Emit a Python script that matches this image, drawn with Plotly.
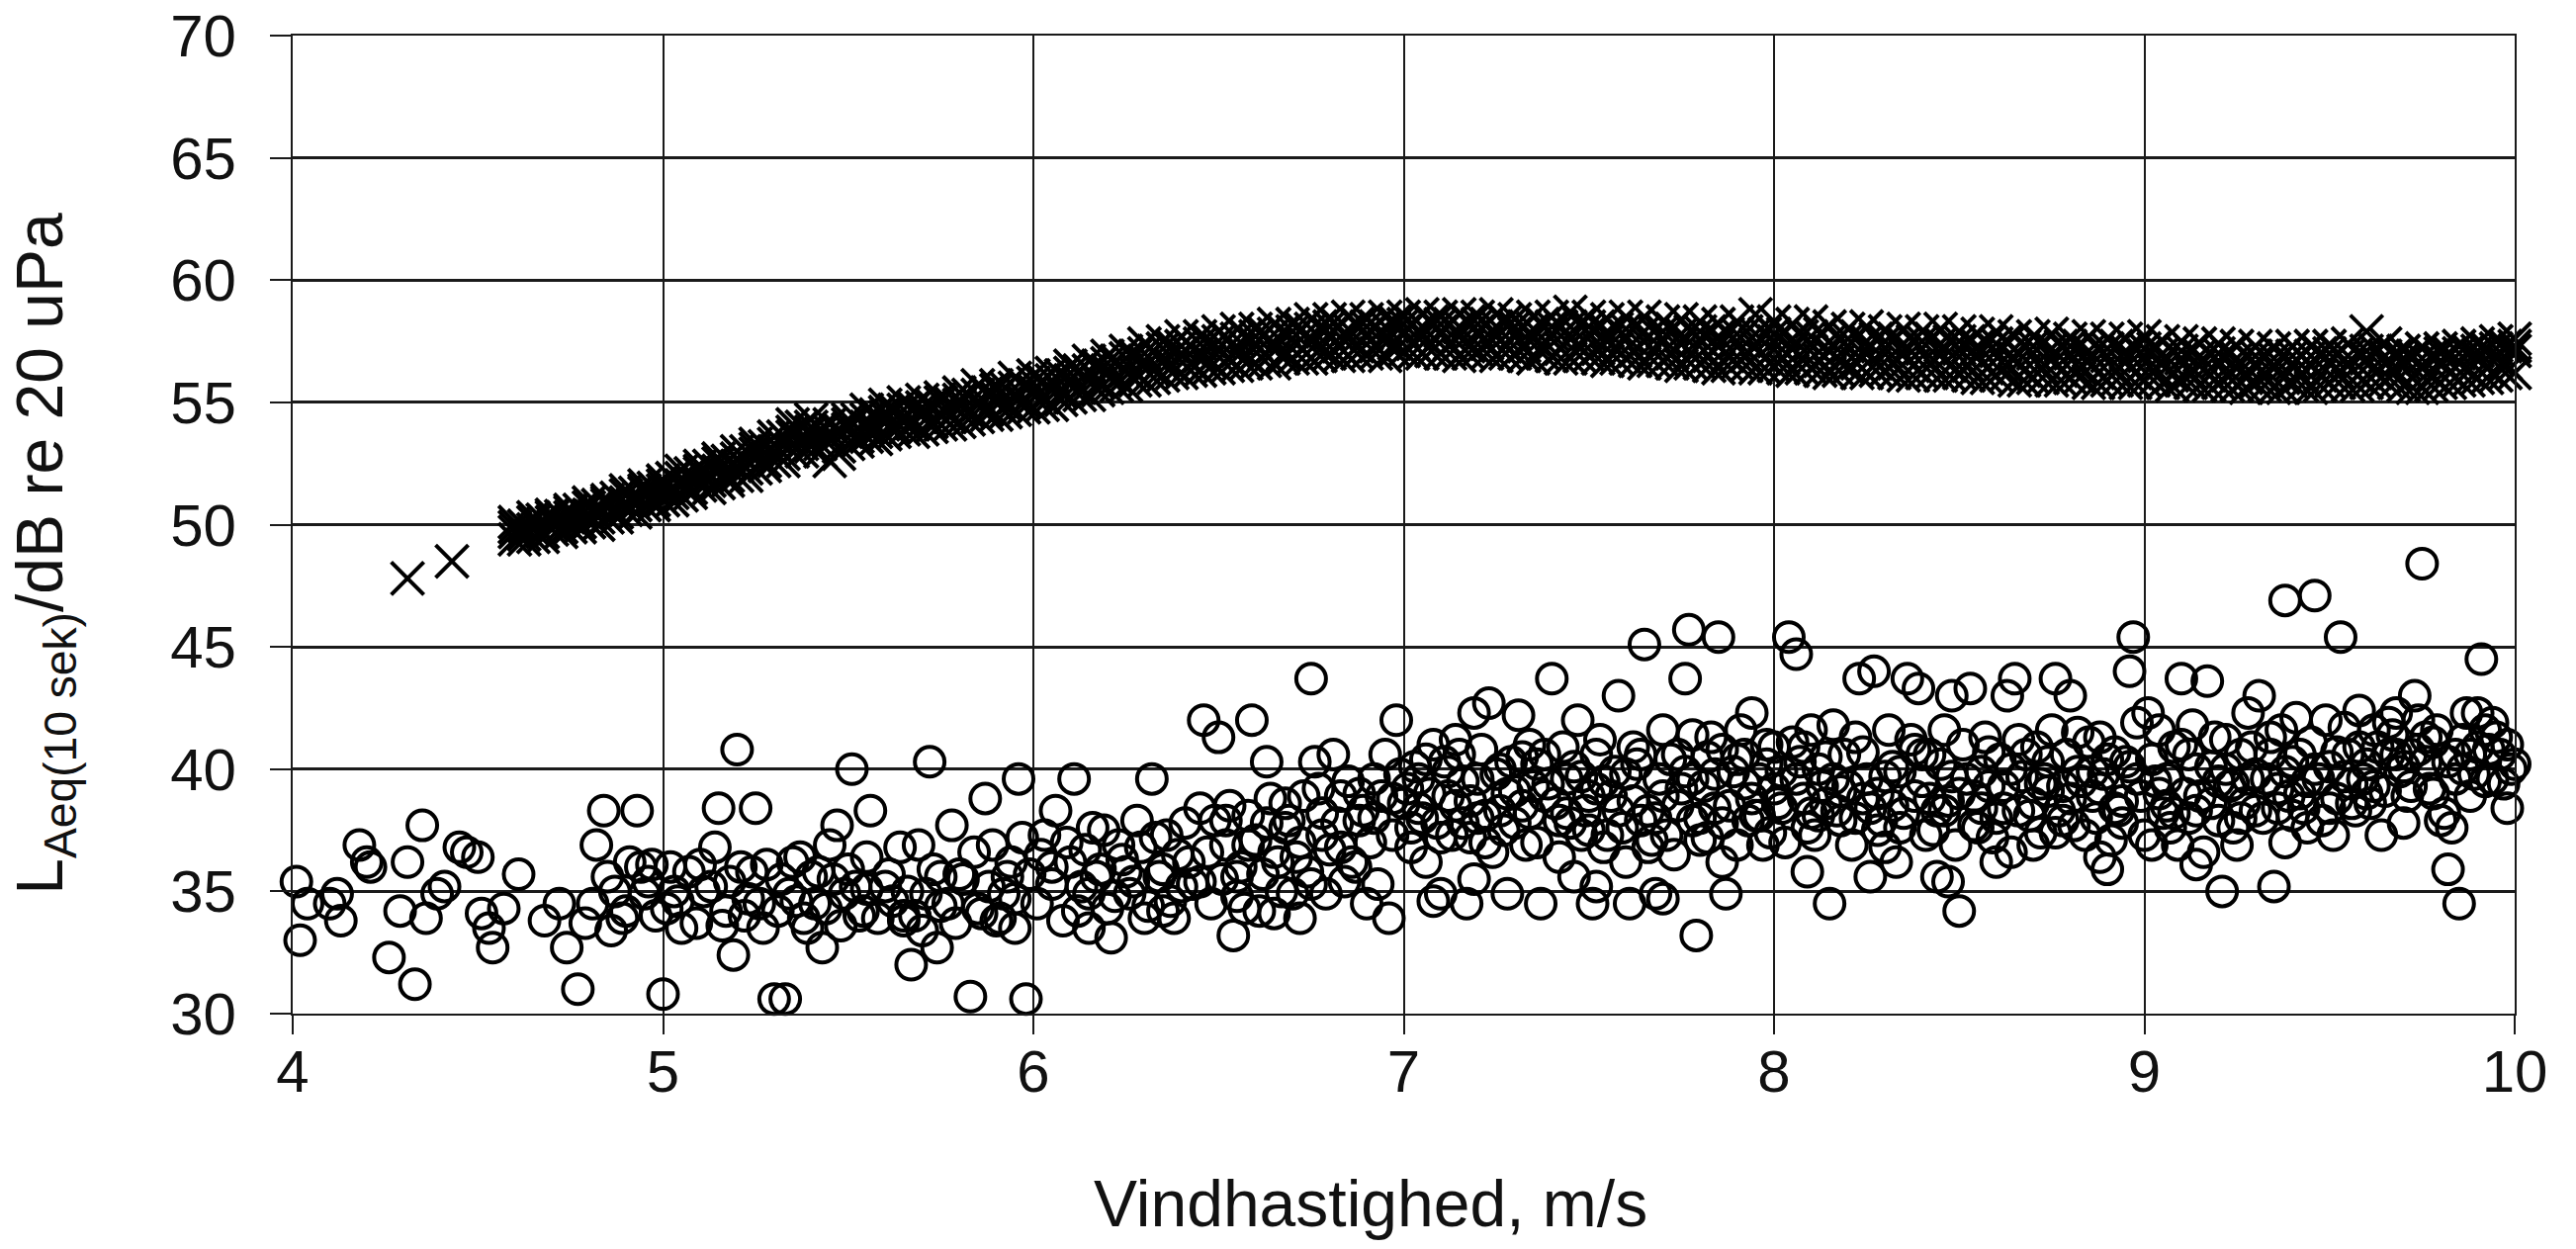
import plotly.graph_objects as go

# ---------------- data ----------------
# Crosses (upper series): wind speed columns and level rows
cross_speed_a = [4.60, 4.65, 4.70, 4.75, 4.80, 4.85, 4.90, 4.95,
                 5.00, 5.05, 5.10, 5.15, 5.20, 5.25, 5.30, 5.35, 5.40, 5.45, 5.50, 5.55, 5.60, 5.65, 5.70, 5.75, 5.80, 5.85, 5.90, 5.95,
                 6.00, 6.05, 6.10, 6.15, 6.20, 6.25, 6.30, 6.35, 6.40, 6.45, 6.50, 6.55, 6.60, 6.65, 6.70, 6.75, 6.80, 6.85, 6.90, 6.95,
                 7.00, 7.05, 7.10, 7.15, 7.20, 7.25, 7.30, 7.35, 7.40, 7.45, 7.50, 7.55, 7.60, 7.65, 7.70, 7.75, 7.80, 7.85, 7.90, 7.95,
                 8.00, 8.05, 8.10, 8.15, 8.20, 8.25, 8.30, 8.35, 8.40, 8.45, 8.50, 8.55, 8.60, 8.65, 8.70, 8.75, 8.80, 8.85, 8.90, 8.95,
                 9.00, 9.05, 9.10, 9.15, 9.20, 9.25, 9.30, 9.35, 9.40, 9.45, 9.50, 9.55, 9.60, 9.65, 9.70, 9.75, 9.80, 9.85, 9.90, 9.95,
                 10.00]
cross_high = [50.1, 50.3, 50.4, 50.6, 50.9, 51.0, 51.4, 51.6,
              51.8, 52.2, 52.4, 52.7, 53.0, 53.3, 53.6, 54.1, 54.3, 54.1, 54.3, 54.7, 54.9, 55.0, 55.1, 55.2, 55.4, 55.7, 55.7, 56.0,
              56.1, 56.2, 56.5, 56.7, 56.9, 57.1, 57.4, 57.5, 57.7, 57.7, 57.9, 58.0, 58.0, 58.2, 58.2, 58.4, 58.4, 58.5, 58.4, 58.5,
              58.5, 58.6, 58.5, 58.6, 58.5, 58.6, 58.4, 58.5, 58.5, 58.7, 58.5, 58.4, 58.5, 58.5, 58.3, 58.4, 58.3, 58.2, 58.3, 58.6,
              58.3, 58.2, 58.3, 58.1, 58.0, 58.1, 57.9, 58.0, 57.9, 58.0, 57.9, 57.8, 57.9, 57.7, 57.7, 57.8, 57.6, 57.7, 57.6, 57.6,
              57.7, 57.5, 57.5, 57.4, 57.4, 57.3, 57.3, 57.2, 57.3, 57.3, 57.3, 57.4, 57.9, 57.4, 57.1, 57.2, 57.2, 57.3, 57.4, 57.5,
              57.6]
cross_upper = [49.9, 50.1, 50.3, 50.5, 50.7, 50.9, 51.2, 51.4,
               51.6, 51.9, 52.2, 52.5, 52.7, 53.1, 53.3, 53.8, 54.0, 53.8, 54.1, 54.3, 54.6, 54.7, 54.8, 55.0, 55.1, 55.3, 55.5, 55.6,
               55.8, 55.9, 56.2, 56.3, 56.6, 56.8, 57.0, 57.2, 57.3, 57.4, 57.5, 57.6, 57.7, 57.8, 57.9, 58.0, 58.1, 58.0, 58.1, 58.1,
               58.2, 58.1, 58.2, 58.1, 58.2, 58.1, 58.1, 58.0, 58.1, 58.1, 58.1, 57.9, 58.0, 57.9, 57.9, 57.8, 57.9, 57.7, 57.8, 57.8,
               57.8, 57.6, 57.7, 57.5, 57.6, 57.5, 57.5, 57.4, 57.5, 57.4, 57.5, 57.3, 57.4, 57.2, 57.3, 57.2, 57.3, 57.1, 57.2, 57.1,
               57.2, 57.0, 57.1, 56.9, 57.0, 56.8, 56.9, 56.8, 56.9, 56.9, 57.0, 56.9, 57.1, 56.9, 56.8, 56.8, 57.0, 57.0, 57.1, 57.2,
               57.3]
cross_mid = [49.7, 49.8, 50.1, 50.3, 50.4, 50.8, 50.9, 51.3,
             51.4, 51.6, 52.1, 52.2, 52.4, 52.9, 53.0, 53.6, 53.8, 53.5, 53.9, 54.0, 54.4, 54.3, 54.6, 54.5, 54.9, 54.9, 55.2, 55.2,
             55.5, 55.5, 55.9, 55.9, 56.3, 56.3, 56.7, 56.7, 57.0, 56.9, 57.2, 57.1, 57.4, 57.3, 57.6, 57.5, 57.8, 57.6, 57.8, 57.6,
             57.9, 57.7, 57.9, 57.7, 57.9, 57.7, 57.8, 57.6, 57.8, 57.6, 57.8, 57.5, 57.7, 57.5, 57.6, 57.4, 57.6, 57.3, 57.5, 57.3,
             57.5, 57.2, 57.4, 57.1, 57.3, 57.1, 57.2, 57.0, 57.2, 57.0, 57.2, 56.9, 57.1, 56.8, 57.0, 56.8, 57.0, 56.7, 56.9, 56.7,
             56.9, 56.6, 56.8, 56.5, 56.7, 56.4, 56.6, 56.4, 56.6, 56.5, 56.7, 56.5, 56.8, 56.6, 56.6, 56.4, 56.7, 56.6, 56.9, 56.8,
             57.1]
cross_low = [49.4, 49.5, 49.8, 49.9, 50.1, 50.3, 50.6, 50.8,
             51.0, 51.2, 51.6, 51.7, 52.0, 52.3, 52.6, 53.0, 53.2, 52.6, 53.3, 53.6, 53.7, 53.9, 53.9, 54.1, 54.2, 54.4, 54.5, 54.7,
             54.8, 54.9, 55.2, 55.3, 55.6, 55.7, 55.9, 56.1, 56.2, 56.3, 56.4, 56.5, 56.6, 56.6, 56.8, 56.8, 57.0, 56.9, 57.0, 56.9,
             57.1, 57.0, 57.0, 56.9, 57.1, 56.9, 57.0, 56.8, 56.9, 56.8, 56.9, 56.7, 56.8, 56.6, 56.7, 56.5, 56.6, 56.4, 56.6, 56.4,
             56.5, 56.3, 56.4, 56.2, 56.4, 56.2, 56.3, 56.1, 56.2, 56.1, 56.2, 56.0, 56.1, 55.9, 56.0, 55.9, 56.0, 55.8, 55.9, 55.8,
             55.9, 55.8, 55.9, 55.7, 55.8, 55.7, 55.8, 55.6, 55.8, 55.6, 55.8, 55.7, 55.8, 55.9, 55.7, 55.6, 55.8, 55.9, 56.0, 56.1,
             56.2]
cross_speed_b = [4.625, 4.675, 4.725, 4.775, 4.825, 4.875, 4.925, 4.975,
                 5.025, 5.075, 5.125, 5.175, 5.225, 5.275, 5.325, 5.375, 5.425, 5.475, 5.525, 5.575, 5.625, 5.675, 5.725, 5.775, 5.825, 5.875, 5.925, 5.975,
                 6.025, 6.075, 6.125, 6.175, 6.225, 6.275, 6.325, 6.375, 6.425, 6.475, 6.525, 6.575, 6.625, 6.675, 6.725, 6.775, 6.825, 6.875, 6.925, 6.975,
                 7.025, 7.075, 7.125, 7.175, 7.225, 7.275, 7.325, 7.375, 7.425, 7.475, 7.525, 7.575, 7.625, 7.675, 7.725, 7.775, 7.825, 7.875, 7.925, 7.975,
                 8.025, 8.075, 8.125, 8.175, 8.225, 8.275, 8.325, 8.375, 8.425, 8.475, 8.525, 8.575, 8.625, 8.675, 8.725, 8.775, 8.825, 8.875, 8.925, 8.975,
                 9.025, 9.075, 9.125, 9.175, 9.225, 9.275, 9.325, 9.375, 9.425, 9.475, 9.525, 9.575, 9.625, 9.675, 9.725, 9.775, 9.825, 9.875, 9.925, 9.975]
cross_midhigh = [49.95, 50.2, 50.35, 50.6, 50.8, 51.1, 51.3, 51.5,
                 51.9, 52.1, 52.4, 52.6, 53.0, 53.2, 53.6, 54.0, 53.9, 53.9, 54.3, 54.5, 54.7, 54.8, 54.9, 55.0, 55.3, 55.4, 55.6, 55.7,
                 55.9, 56.1, 56.3, 56.5, 56.7, 56.9, 57.1, 57.3, 57.3, 57.5, 57.6, 57.7, 57.8, 57.9, 58.0, 58.1, 58.1, 58.2, 58.1, 58.3,
                 58.2, 58.3, 58.2, 58.3, 58.2, 58.3, 58.1, 58.2, 58.1, 58.2, 58.1, 58.0, 58.1, 57.9, 58.0, 57.9, 57.9, 57.8, 57.9, 57.8,
                 57.8, 57.7, 57.8, 57.6, 57.7, 57.6, 57.6, 57.5, 57.6, 57.5, 57.5, 57.4, 57.5, 57.3, 57.4, 57.3, 57.3, 57.2, 57.3, 57.2,
                 57.2, 57.1, 57.1, 57.0, 57.0, 56.9, 56.9, 56.9, 56.9, 57.0, 57.0, 57.0, 57.1, 56.9, 56.9, 56.9, 57.0, 57.1, 57.2, 57.3]
cross_midlow = [49.6, 49.7, 49.9, 50.1, 50.3, 50.5, 50.8, 51.0,
                51.3, 51.5, 51.8, 52.0, 52.3, 52.6, 52.9, 53.3, 53.3, 53.2, 53.6, 53.8, 54.0, 54.1, 54.2, 54.4, 54.6, 54.7, 54.9, 55.0,
                55.2, 55.4, 55.6, 55.8, 56.0, 56.2, 56.3, 56.5, 56.6, 56.7, 56.8, 56.9, 57.0, 57.0, 57.2, 57.2, 57.3, 57.3, 57.3, 57.4,
                57.4, 57.4, 57.4, 57.3, 57.4, 57.3, 57.3, 57.3, 57.2, 57.3, 57.2, 57.2, 57.1, 57.1, 57.0, 57.0, 56.9, 56.9, 56.9, 56.8,
                56.8, 56.8, 56.7, 56.7, 56.6, 56.6, 56.6, 56.5, 56.6, 56.5, 56.5, 56.4, 56.5, 56.3, 56.4, 56.3, 56.4, 56.2, 56.3, 56.2,
                56.3, 56.1, 56.2, 56.1, 56.1, 56.0, 56.1, 56.0, 56.1, 56.1, 56.2, 56.1, 56.2, 56.2, 56.0, 56.1, 56.2, 56.3, 56.4, 56.6]
cross_lower = [49.4, 49.5, 49.7, 49.9, 50.0, 50.3, 50.5, 50.8,
               51.0, 51.3, 51.5, 51.8, 52.0, 52.4, 52.6, 53.0, 53.0, 52.9, 53.4, 53.5, 53.8, 53.8, 54.0, 54.1, 54.3, 54.5, 54.6, 54.8,
               54.9, 55.1, 55.3, 55.5, 55.7, 55.9, 56.0, 56.2, 56.3, 56.4, 56.5, 56.6, 56.7, 56.8, 56.8, 56.9, 56.9, 57.0, 57.0, 57.1,
               57.0, 57.1, 57.0, 57.0, 57.0, 57.0, 56.9, 57.0, 56.8, 56.9, 56.8, 56.8, 56.7, 56.7, 56.6, 56.6, 56.5, 56.5, 56.5, 56.4,
               56.4, 56.4, 56.3, 56.3, 56.2, 56.3, 56.2, 56.1, 56.2, 56.1, 56.1, 56.0, 56.1, 55.9, 56.0, 55.9, 56.0, 55.8, 55.9, 55.8,
               55.9, 55.7, 55.8, 55.7, 55.7, 55.6, 55.7, 55.6, 55.7, 55.7, 55.8, 55.7, 55.8, 55.8, 55.6, 55.7, 55.8, 55.9, 56.0, 56.2]
cross_isolated = [(4.31, 47.8), (4.43, 48.5)]

# Circles (lower series), grouped by wind-speed interval: (speed, level)
circles_4_5 = [
    (4.01, 35.4), (4.02, 33.0), (4.04, 34.5), (4.10, 34.5), (4.12, 34.9), (4.13, 33.8), (4.18, 36.9), (4.20, 36.2),
    (4.21, 36.0), (4.26, 32.3), (4.29, 34.2), (4.31, 36.2), (4.33, 31.2), (4.35, 37.7), (4.36, 33.9), (4.39, 34.9),
    (4.41, 35.2), (4.45, 36.8), (4.47, 36.6), (4.50, 36.4), (4.51, 34.1), (4.53, 33.5), (4.54, 32.7), (4.57, 34.3),
    (4.61, 35.7), (4.68, 33.8), (4.72, 34.5), (4.74, 32.7), (4.77, 31.0), (4.79, 33.7), (4.81, 34.5), (4.82, 36.9),
    (4.84, 38.3), (4.85, 35.6), (4.86, 33.4), (4.87, 35.0), (4.89, 33.9), (4.90, 34.2), (4.91, 36.2), (4.93, 38.3),
    (4.94, 36.0), (4.95, 34.9), (4.96, 35.4), (4.97, 36.1), (4.98, 34.0)]
circles_5_6 = [
    (5.00, 30.8), (5.01, 34.3), (5.02, 36.0), (5.03, 35.0), (5.04, 34.6), (5.05, 33.5), (5.07, 35.8), (5.09, 33.7),
    (5.10, 36.1), (5.11, 35.0), (5.13, 35.2), (5.14, 36.8), (5.15, 38.4), (5.16, 33.6), (5.17, 34.2), (5.18, 35.4),
    (5.19, 32.4), (5.20, 40.8), (5.21, 36.0), (5.22, 34.0), (5.23, 34.7), (5.24, 35.8), (5.25, 38.4), (5.26, 34.5),
    (5.27, 33.5), (5.28, 36.1), (5.30, 30.6), (5.31, 34.2), (5.32, 35.5), (5.33, 30.6), (5.34, 34.9), (5.35, 36.2),
    (5.36, 34.6), (5.37, 36.4), (5.38, 33.9), (5.39, 33.5), (5.40, 35.6), (5.41, 34.5), (5.42, 35.8), (5.43, 32.7),
    (5.44, 34.3), (5.45, 36.9), (5.46, 35.5), (5.47, 37.7), (5.48, 33.6), (5.49, 34.9), (5.50, 35.9), (5.51, 40.0),
    (5.52, 35.2), (5.53, 34.0), (5.54, 34.2), (5.55, 36.4), (5.56, 38.3), (5.58, 33.9), (5.60, 35.2), (5.61, 35.7),
    (5.62, 34.6), (5.64, 36.8), (5.65, 33.8), (5.66, 35.0), (5.67, 32.0), (5.68, 34.0), (5.69, 36.9), (5.70, 33.4),
    (5.71, 34.9), (5.72, 40.3), (5.73, 35.9), (5.74, 32.7), (5.75, 34.4), (5.77, 34.5), (5.78, 37.7), (5.79, 33.7),
    (5.80, 35.7), (5.81, 35.5), (5.83, 30.7), (5.84, 36.6), (5.85, 34.3), (5.86, 34.1), (5.87, 38.8), (5.88, 35.2),
    (5.89, 36.9), (5.90, 33.8), (5.91, 33.9), (5.92, 34.9), (5.93, 35.6), (5.94, 36.2), (5.95, 34.7), (5.96, 39.6),
    (5.97, 37.2), (5.98, 30.6), (5.99, 35.7), (5.55, 35.1), (5.65, 34.0), (5.75, 35.6), (5.95, 33.5)]
circles_6_7 = [
    (6.01, 34.5), (6.02, 36.5), (6.03, 37.3), (6.05, 35.3), (6.06, 38.3), (6.08, 33.8), (6.09, 37.0), (6.10, 36.2),
    (6.11, 39.6), (6.12, 34.2), (6.13, 35.2), (6.14, 36.7), (6.15, 33.5), (6.16, 37.6), (6.17, 35.6), (6.18, 35.9),
    (6.19, 37.5), (6.20, 34.3), (6.21, 33.1), (6.22, 34.8), (6.23, 36.9), (6.24, 36.3), (6.26, 34.9), (6.27, 35.4),
    (6.28, 37.9), (6.29, 36.8), (6.30, 33.9), (6.31, 34.4), (6.32, 39.6), (6.33, 37.2), (6.34, 35.6), (6.35, 35.9),
    (6.36, 37.3), (6.37, 34.6), (6.38, 33.9), (6.39, 36.5), (6.40, 35.2), (6.41, 37.8), (6.42, 36.2), (6.43, 35.3),
    (6.45, 38.4), (6.46, 42.0), (6.47, 36.6), (6.48, 34.5), (6.49, 37.9), (6.50, 41.3), (6.51, 35.5), (6.52, 36.9),
    (6.53, 38.5), (6.54, 33.2), (6.55, 35.6), (6.56, 36.0), (6.57, 34.3), (6.58, 38.1), (6.59, 42.0), (6.60, 37.1),
    (6.61, 34.2), (6.62, 35.7), (6.63, 40.3), (6.64, 38.8), (6.65, 36.6), (6.66, 36.2), (6.67, 35.0), (6.68, 37.6),
    (6.69, 37.9), (6.70, 34.9), (6.71, 36.4), (6.72, 33.9), (6.73, 38.9), (6.74, 35.8), (6.75, 43.7), (6.76, 40.3),
    (6.77, 39.2), (6.78, 37.3), (6.79, 34.9), (6.80, 36.7), (6.81, 40.6), (6.82, 37.8), (6.83, 38.9), (6.84, 35.4),
    (6.85, 39.5), (6.86, 36.2), (6.87, 36.0), (6.88, 37.9), (6.89, 38.3), (6.90, 34.5), (6.91, 37.0), (6.92, 39.6),
    (6.93, 35.3), (6.94, 38.9), (6.95, 40.6), (6.96, 33.9), (6.97, 37.3), (6.98, 42.0), (6.99, 39.8),
    (6.05, 36.0), (6.15, 34.9), (6.25, 35.8), (6.35, 34.2), (6.45, 35.4), (6.55, 34.8), (6.65, 34.1), (6.75, 35.3),
    (6.52, 37.9), (6.58, 36.9), (6.63, 37.8), (6.68, 38.6), (6.72, 37.0), (6.78, 38.2), (6.83, 36.8), (6.88, 39.0),
    (6.92, 38.0), (6.97, 38.8)]
circles_7_8 = [
    (7.00, 38.6), (7.01, 39.2), (7.02, 37.6), (7.03, 40.1), (7.04, 39.6), (7.05, 38.0), (7.06, 36.2), (7.07, 39.0),
    (7.08, 41.0), (7.08, 34.6), (7.09, 37.8), (7.10, 34.9), (7.11, 40.3), (7.12, 38.9), (7.13, 37.3), (7.14, 38.5),
    (7.15, 40.6), (7.16, 39.5), (7.17, 34.5), (7.18, 37.2), (7.19, 42.3), (7.19, 35.5), (7.20, 39.6), (7.21, 40.8),
    (7.22, 38.1), (7.23, 42.7), (7.24, 36.6), (7.25, 39.8), (7.26, 38.3), (7.27, 37.5), (7.28, 34.9), (7.29, 40.3),
    (7.30, 39.1), (7.31, 42.2), (7.32, 40.5), (7.33, 36.9), (7.34, 38.2), (7.35, 39.3), (7.36, 37.0), (7.37, 34.5),
    (7.38, 40.6), (7.39, 39.4), (7.40, 43.7), (7.41, 38.6), (7.42, 37.9), (7.43, 40.9), (7.44, 39.6), (7.45, 37.8),
    (7.46, 35.6), (7.47, 42.0), (7.48, 39.7), (7.49, 38.3), (7.50, 38.9), (7.51, 34.5), (7.52, 40.6), (7.52, 35.2),
    (7.53, 41.2), (7.54, 36.8), (7.55, 37.3), (7.56, 38.9), (7.57, 39.9), (7.58, 43.0), (7.59, 37.6), (7.60, 36.2),
    (7.61, 34.5), (7.62, 38.7), (7.63, 40.2), (7.64, 40.6), (7.65, 45.1), (7.66, 38.3), (7.67, 37.1), (7.68, 34.9),
    (7.69, 39.6), (7.70, 38.9), (7.70, 34.7), (7.71, 37.3), (7.72, 40.4), (7.73, 36.5), (7.74, 40.6), (7.75, 39.2),
    (7.76, 43.7), (7.77, 45.7), (7.78, 37.9), (7.78, 41.4), (7.79, 33.2), (7.80, 38.0), (7.81, 39.3), (7.82, 37.2),
    (7.83, 41.3), (7.84, 39.8), (7.85, 45.4), (7.86, 36.2), (7.86, 40.8), (7.87, 34.9), (7.88, 38.5), (7.89, 39.9),
    (7.90, 36.9), (7.91, 41.6), (7.92, 39.4), (7.93, 37.9), (7.94, 42.3), (7.95, 38.1), (7.96, 39.6), (7.97, 36.9),
    (7.98, 40.2), (7.99, 37.4),
    (7.02, 36.8), (7.06, 40.4), (7.10, 37.2), (7.14, 41.2), (7.18, 38.7), (7.22, 37.0), (7.26, 40.0), (7.30, 37.8),
    (7.34, 41.0), (7.38, 38.9), (7.42, 36.4), (7.46, 40.1), (7.50, 37.5), (7.54, 39.5), (7.58, 38.3), (7.62, 40.9),
    (7.66, 36.8), (7.70, 41.6), (7.74, 38.5), (7.78, 39.6), (7.82, 40.5), (7.86, 37.8), (7.90, 40.4), (7.94, 38.8),
    (7.98, 41.0)]
circles_8_9 = [
    (8.00, 40.9), (8.01, 38.6), (8.02, 39.9), (8.03, 37.0), (8.04, 45.4), (8.05, 41.1), (8.06, 44.7), (8.07, 40.3),
    (8.08, 38.8), (8.09, 37.6), (8.09, 35.8), (8.10, 41.6), (8.11, 37.3), (8.12, 40.0), (8.13, 39.3), (8.14, 38.6),
    (8.15, 34.5), (8.16, 41.8), (8.17, 38.3), (8.18, 37.9), (8.19, 40.6), (8.20, 39.3), (8.21, 36.9), (8.22, 38.0),
    (8.23, 43.7), (8.24, 40.7), (8.25, 39.6), (8.26, 35.6), (8.27, 44.0), (8.28, 39.0), (8.29, 37.9), (8.30, 36.8),
    (8.31, 41.6), (8.32, 40.1), (8.33, 36.2), (8.34, 39.9), (8.35, 38.2), (8.36, 43.7), (8.37, 41.2), (8.38, 38.9),
    (8.39, 43.3), (8.40, 39.5), (8.41, 37.3), (8.42, 40.6), (8.43, 37.5), (8.44, 35.6), (8.45, 40.2), (8.46, 38.3),
    (8.47, 38.7), (8.47, 35.4), (8.48, 43.0), (8.49, 36.9), (8.50, 34.2), (8.51, 41.0), (8.52, 39.6), (8.53, 43.3),
    (8.54, 38.9), (8.55, 37.6), (8.56, 39.9), (8.57, 41.3), (8.58, 39.3), (8.59, 37.2), (8.60, 36.2), (8.61, 40.4),
    (8.62, 38.4), (8.63, 43.0), (8.64, 36.6), (8.65, 43.7), (8.66, 38.3), (8.67, 39.7), (8.68, 40.6), (8.69, 38.1),
    (8.70, 36.9), (8.71, 40.9), (8.72, 37.4), (8.73, 39.6), (8.74, 39.1), (8.75, 41.6), (8.76, 43.7), (8.77, 38.3),
    (8.78, 37.9), (8.79, 40.6), (8.80, 43.0), (8.81, 37.7), (8.82, 39.9), (8.83, 39.5), (8.84, 37.3), (8.85, 41.1),
    (8.86, 38.9), (8.87, 38.0), (8.88, 41.3), (8.88, 36.4), (8.89, 39.8), (8.90, 35.9), (8.91, 37.1), (8.92, 40.7),
    (8.93, 38.3), (8.94, 38.7), (8.95, 40.3), (8.96, 44.0), (8.97, 45.4), (8.98, 41.9), (8.99, 38.9),
    (8.02, 38.4), (8.06, 39.6), (8.10, 38.2), (8.14, 40.5), (8.18, 39.1), (8.22, 41.3), (8.26, 38.4), (8.30, 39.7),
    (8.34, 37.6), (8.38, 40.8), (8.42, 38.8), (8.46, 41.6), (8.50, 39.0), (8.54, 37.7), (8.58, 40.7), (8.62, 39.3),
    (8.66, 41.2), (8.70, 38.6), (8.74, 40.3), (8.78, 39.3), (8.82, 41.5), (8.86, 39.9), (8.90, 40.4), (8.94, 37.8),
    (8.98, 39.6)]
circles_9_10 = [
    (9.00, 37.3), (9.01, 42.3), (9.02, 36.9), (9.03, 39.5), (9.04, 41.6), (9.05, 38.2), (9.06, 39.6), (9.07, 37.6),
    (9.08, 40.9), (9.09, 36.9), (9.10, 43.7), (9.11, 39.0), (9.12, 40.6), (9.13, 41.8), (9.14, 38.3), (9.14, 36.1),
    (9.15, 38.9), (9.16, 36.6), (9.17, 43.6), (9.18, 40.1), (9.19, 41.3), (9.20, 37.9), (9.21, 35.0), (9.22, 41.2),
    (9.23, 39.3), (9.24, 39.4), (9.25, 36.9), (9.26, 40.6), (9.27, 38.6), (9.28, 42.3), (9.29, 40.9), (9.30, 38.3),
    (9.31, 43.0), (9.32, 38.0), (9.33, 39.6), (9.34, 41.3), (9.35, 35.2), (9.36, 39.2), (9.37, 41.6), (9.38, 46.9),
    (9.38, 37.0), (9.39, 38.9), (9.40, 40.3), (9.41, 42.1), (9.42, 40.6), (9.43, 38.4), (9.44, 37.6), (9.45, 41.1),
    (9.46, 47.1), (9.47, 39.6), (9.48, 37.9), (9.49, 42.0), (9.50, 40.1), (9.51, 37.3), (9.52, 38.8), (9.53, 45.4),
    (9.54, 41.7), (9.55, 40.6), (9.56, 39.4), (9.57, 38.3), (9.58, 42.4), (9.59, 39.6), (9.60, 40.2), (9.61, 38.6),
    (9.62, 41.6), (9.63, 40.9), (9.64, 37.3), (9.65, 39.1), (9.66, 40.6), (9.67, 41.4), (9.68, 42.3), (9.69, 39.9),
    (9.70, 37.8), (9.71, 38.9), (9.72, 40.6), (9.73, 43.0), (9.74, 42.0), (9.75, 48.4), (9.76, 40.3), (9.77, 39.2),
    (9.78, 41.1), (9.79, 41.6), (9.80, 37.9), (9.81, 38.2), (9.82, 35.9), (9.83, 37.6), (9.84, 39.6), (9.85, 34.5),
    (9.86, 41.2), (9.87, 42.3), (9.88, 40.6), (9.89, 39.8), (9.90, 42.3), (9.91, 44.5), (9.92, 41.6), (9.93, 40.8),
    (9.94, 39.6), (9.95, 41.3), (9.96, 40.6), (9.97, 39.4), (9.98, 38.4), (9.99, 40.0), (10.00, 40.2),
    (9.02, 40.4), (9.06, 38.5), (9.10, 41.0), (9.14, 40.0), (9.18, 38.6), (9.22, 40.0), (9.26, 38.0), (9.30, 39.8),
    (9.34, 40.6), (9.38, 39.9), (9.42, 39.0), (9.46, 40.0), (9.50, 38.4), (9.54, 39.7), (9.58, 40.9), (9.62, 39.3),
    (9.66, 41.9), (9.70, 40.1), (9.74, 40.8), (9.78, 39.0), (9.82, 40.3), (9.86, 40.0), (9.90, 40.9), (9.94, 41.9),
    (9.98, 41.0)]
circles_core = [
    (7.04, 38.4), (7.12, 39.9), (7.20, 38.0), (7.28, 39.0), (7.36, 40.2), (7.44, 38.2), (7.52, 39.2), (7.60, 39.8),
    (7.68, 38.0), (7.76, 39.9), (7.84, 38.4), (7.92, 40.6), (8.00, 39.2), (8.08, 40.9), (8.16, 39.6), (8.24, 38.8),
    (8.32, 38.5), (8.40, 40.6), (8.48, 39.7), (8.56, 38.4), (8.64, 40.0), (8.72, 39.4), (8.80, 38.8), (8.88, 39.2),
    (8.96, 40.1), (9.04, 39.0), (9.12, 38.0), (9.20, 39.5), (9.28, 39.6), (9.36, 38.4), (9.44, 39.5), (9.52, 40.7),
    (9.60, 39.0), (9.68, 40.6), (9.76, 41.3), (9.84, 40.6), (9.92, 39.5), (7.16, 37.8), (7.32, 38.5), (7.48, 37.3),
    (7.64, 37.9), (7.80, 37.1), (7.96, 38.1), (8.12, 38.1), (8.28, 37.5), (8.44, 38.3), (8.60, 38.0), (8.76, 37.4),
    (8.92, 38.4), (9.08, 38.2), (9.24, 37.6), (9.40, 38.1), (9.56, 38.6), (9.72, 39.3), (9.88, 38.9)]

x_ticks = [4, 5, 6, 7, 8, 9, 10]
y_ticks = [30, 35, 40, 45, 50, 55, 60, 65, 70]
x_title = "Vindhastighed, m/s"
y_title = "L<sub>Aeq(10 sek)</sub>/dB re 20 uPa"

# ---------------- build ----------------
circle_pts = circles_4_5 + circles_5_6 + circles_6_7 + circles_7_8 + circles_8_9 + circles_9_10 + circles_core
circ_x = [p[0] for p in circle_pts]
circ_y = [p[1] for p in circle_pts]

cx = (list(cross_speed_a) * 4) + (list(cross_speed_b) * 3) + [p[0] for p in cross_isolated]
cy = (cross_high + cross_upper + cross_mid + cross_low
      + cross_midhigh + cross_midlow + cross_lower + [p[1] for p in cross_isolated])

fig = go.Figure()
fig.add_trace(go.Scatter(
    x=circ_x, y=circ_y, mode="markers",
    marker=dict(symbol="circle-open", size=30, color="black", line=dict(width=4, color="black")),
    showlegend=False, hoverinfo="skip", cliponaxis=False))
fig.add_trace(go.Scatter(
    x=cx, y=cy, mode="markers",
    marker=dict(symbol="x-thin-open", size=33, color="black", line=dict(width=4, color="black")),
    showlegend=False, hoverinfo="skip", cliponaxis=False))

grid_col = "#1a1a1a"
tick_font = dict(family="Liberation Sans, Arial, sans-serif", size=60, color="#111111")
title_family = "Liberation Sans, Arial, sans-serif"

# the page body adds an 8 px offset; the figure is sized to compensate
fig.update_layout(
    width=2597, height=1255,
    margin=dict(l=288, r=62, t=28, b=238, autoexpand=False),
    paper_bgcolor="white", plot_bgcolor="white",
    xaxis=dict(range=[4, 10], tickvals=x_ticks, ticktext=[str(v) for v in x_ticks],
               showgrid=True, gridcolor=grid_col, gridwidth=2,
               ticks="outside", ticklen=19, tickwidth=2, tickcolor=grid_col,
               showline=True, mirror=True, linecolor=grid_col, linewidth=2,
               zeroline=False, tickfont=tick_font, ticklabelstandoff=-14,
               ticklabeloverflow="allow", automargin=False),
    yaxis=dict(range=[30, 70], tickvals=y_ticks, ticktext=[str(v) for v in y_ticks],
               showgrid=True, gridcolor=grid_col, gridwidth=3,
               ticks="outside", ticklen=21, tickwidth=2, tickcolor=grid_col,
               showline=True, mirror=True, linecolor=grid_col, linewidth=2,
               zeroline=False, tickfont=tick_font, ticklabelstandoff=22,
               ticklabeloverflow="allow", automargin=False),
    annotations=[
        dict(text=x_title, xref="paper", yref="paper", x=0.485, y=-0.155,
             xanchor="center", yanchor="top", showarrow=False,
             font=dict(family=title_family, size=66, color="#111111")),
        dict(text=y_title, xref="paper", yref="paper", x=-0.1115, y=0.4709,
             xanchor="center", yanchor="middle", textangle=-90, showarrow=False,
             font=dict(family=title_family, size=66, color="#111111")),
    ],
)

fig.write_html("out.html")
